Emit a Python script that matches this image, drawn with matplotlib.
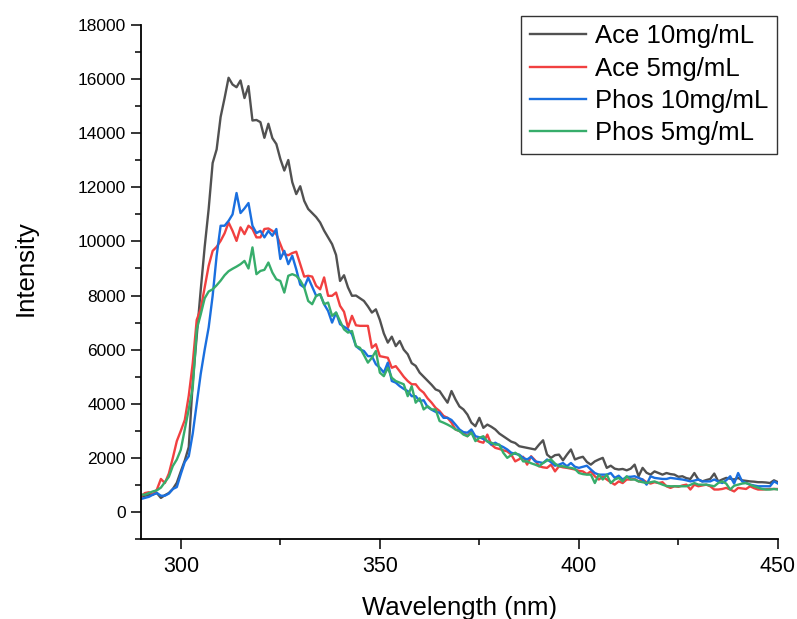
import numpy as np
import matplotlib

matplotlib.use("Agg")

from matplotlib import pyplot as plt  # noqa: E402
from matplotlib.ticker import MultipleLocator  # noqa: E402

plt.rcParams["font.family"] = ["Liberation Sans", "DejaVu Sans"]

wavelength = np.arange(290, 451)

ace_10 = [
    560, 600, 620, 650, 700, 520, 620, 700, 850, 1080,
    1500, 1900, 2400, 4800, 6500, 8200, 9800, 11200, 12900, 13400,
    14600, 15300, 16050, 15800, 15700, 15950, 15300, 15740, 14470, 14490,
    14410, 13830, 14350, 13820, 13600, 13050, 12620, 13010, 12190, 11750,
    12040, 11500, 11200, 11050, 10900, 10700, 10400, 10150, 9900, 9500,
    8540, 8750, 8300, 7990, 8000, 7900, 7800, 7600, 7370, 7490,
    7100, 6600, 6260, 6480, 6130, 6320, 6000, 5830, 5500, 5400,
    5150, 5000, 4850, 4700, 4530, 4470, 4250, 4040, 4470, 4160,
    3900, 3790, 3600, 3300, 3170, 3480, 3110, 3230, 3150, 3050,
    2900, 2800, 2700, 2600, 2550, 2430, 2400, 2370, 2340, 2310,
    2490, 2650, 2120, 2000, 2100, 2120, 1910, 2120, 2310, 1940,
    2000, 2040, 1850, 1750, 1870, 1940, 2000, 1630, 1710, 1600,
    1570, 1590, 1540, 1600, 1750, 1320, 1630, 1450, 1380, 1500,
    1440, 1380, 1440, 1400, 1380, 1300, 1320, 1250, 1220, 1440,
    1200, 1130, 1180, 1220, 1420, 1130, 1200, 1260, 1230, 1200,
    1260, 1170, 1150, 1130, 1120, 1100, 1100, 1090, 1070, 1170,
    1100,
]

ace_5 = [
    580, 700, 730, 640, 830, 1220, 1070, 1420, 2000, 2620,
    3000, 3400, 4300, 5500, 7100, 7500, 8300, 9100, 9650, 9800,
    10020, 10300, 10700, 10390, 10020, 10520, 10270, 10580, 10460, 10150,
    10150, 10460, 10480, 10390, 10270, 9900, 9530, 9490, 9570, 9620,
    9160, 8700, 8730, 8700, 8360, 8230, 8670, 7990, 7990, 8110,
    7620, 7400, 6820, 7250, 6900, 6880, 6880, 6880, 6070, 6200,
    5760, 5730, 5700, 5330, 5390, 5200, 5000, 4840, 4720, 4720,
    4530, 4410, 4200, 4040, 3850, 3730, 3550, 3480, 3300, 3050,
    2990, 2930, 2800, 2990, 2680, 2600, 2560, 2860, 2490, 2370,
    2330, 2280, 2240, 2120, 1870, 1950, 2040, 1750, 2060, 1910,
    1690, 1650, 1630, 1750, 1500, 1690, 1650, 1630, 1600, 1570,
    1520, 1500, 1400, 1500, 1320, 1200, 1300, 1200, 1100, 1010,
    1130, 1070, 1200, 1200, 1220, 1130, 1200, 1100, 1050, 1100,
    1070, 1100, 950, 890, 950, 930, 980, 1010, 830, 1010,
    950, 980, 1010, 950, 830, 830, 850, 890, 830, 760,
    890, 870, 850, 950, 880, 830, 830, 840, 850, 850,
    850,
]

phos_10 = [
    480, 520, 560, 640, 700, 600, 600, 680, 850, 920,
    1400, 1850, 2060, 2900, 4000, 5100, 6000, 6820, 7990, 9470,
    10580, 10580, 10760, 11000, 11790, 11050, 11220, 11420, 10580, 10310,
    10390, 10150, 10390, 10210, 10460, 9350, 9650, 9160, 9470, 8970,
    8400, 8300, 8660, 8330, 7990, 8050, 7680, 7430, 7000, 7370,
    6940, 6850, 6750, 6570, 6130, 6010, 5950, 5760, 5760, 5460,
    5330, 5150, 5520, 4840, 4780, 4650, 4550, 4470, 4280, 4280,
    4100, 4130, 3880, 3780, 3700, 3670, 3480, 3480, 3400, 3230,
    3050, 2950, 2930, 3050, 2800, 2760, 2700, 2620, 2490, 2560,
    2470, 2400, 2310, 2190, 2150, 2120, 2000, 1940, 2040, 1870,
    1840, 1810, 1940, 1840, 1710, 1750, 1810, 1690, 1810, 1670,
    1630, 1670, 1710, 1570, 1440, 1380, 1380, 1380, 1440, 1260,
    1340, 1200, 1300, 1300, 1320, 1260, 1200, 1010, 1320, 1260,
    1240, 1220, 1220, 1260, 1240, 1220, 1200, 1170, 1130, 1160,
    1200, 1130, 1130, 1130, 1200, 1130, 1070, 1170, 1320, 1050,
    1440, 1130, 1070, 1010, 980, 950, 950, 950, 950, 1130,
    1050,
]

phos_5 = [
    640, 640, 700, 760, 800, 900, 1100, 1300, 1700, 1940,
    2300, 3050, 3800, 4600, 6750, 7300, 7900, 8150, 8230, 8380,
    8550, 8750, 8900, 8990, 9070, 9160, 9280, 9000, 9780, 8790,
    8910, 8950, 9220, 8850, 8600, 8540, 8110, 8730, 8790, 8730,
    8560, 8300, 7800, 7680, 7990, 8050, 7680, 7740, 7250, 7370,
    7060, 6750, 6630, 6690, 6130, 6070, 5800, 5520, 5700, 5950,
    5150, 5020, 5330, 4960, 4840, 4780, 4720, 4280, 4650, 4040,
    4200, 3790, 3910, 3790, 3790, 3360, 3300, 3230, 3150, 3050,
    2990, 2860, 2800, 2930, 2620, 2740, 2800, 2600, 2560, 2490,
    2490, 2190, 2000, 2100, 2190, 2090, 1870, 1870, 1800, 1750,
    1690, 1810, 1900, 1940, 1790, 1690, 1690, 1650, 1630, 1590,
    1440, 1400, 1380, 1380, 1070, 1380, 1200, 1380, 1070, 1200,
    1260, 1130, 1320, 1200, 1200, 1130, 1100, 1070, 1100, 1130,
    1070, 1010, 960, 950, 950, 950, 950, 950, 1000, 1070,
    1010, 1010, 1010, 980, 950, 1070, 1130, 1050, 830, 970,
    1010, 1050, 1070, 1010, 950, 900, 850, 830, 830, 850,
    830,
]

series = [
    ("Ace 10mg/mL", ace_10, "#515151"),
    ("Ace 5mg/mL", ace_5, "#F14040"),
    ("Phos 10mg/mL", phos_10, "#1A6FDF"),
    ("Phos 5mg/mL", phos_5, "#37AD6B"),
]

fig = plt.figure(figsize=(7.97, 6.19), dpi=100)
ax = fig.add_axes([0.1769, 0.1292, 0.7992, 0.8304])

for label, values, color in series:
    ax.plot(wavelength, values, color=color, linewidth=1.7, label=label)

ax.set_xlim(290, 450)
ax.set_ylim(-1000, 18000)
ax.xaxis.set_major_locator(MultipleLocator(50))
ax.xaxis.set_minor_locator(MultipleLocator(25))
ax.yaxis.set_major_locator(MultipleLocator(2000))
ax.yaxis.set_minor_locator(MultipleLocator(1000))

for side in ("top", "right"):
    ax.spines[side].set_visible(False)
for side in ("left", "bottom"):
    ax.spines[side].set_linewidth(1.3)

ax.tick_params(which="major", direction="out", length=7, width=1.1)
ax.tick_params(which="minor", direction="out", length=4, width=1.1)
ax.tick_params(axis="x", which="major", labelsize=15.5, pad=5)
ax.tick_params(axis="y", which="major", labelsize=12.5, pad=4)

ax.set_xlabel("Wavelength (nm)", fontsize=18.5, labelpad=14)
ax.set_ylabel("Intensity", fontsize=18.5)
ax.yaxis.set_label_coords(-0.163, 0.527)

legend = ax.legend(
    loc="upper right",
    bbox_to_anchor=(777 / 797, 1 - 16 / 619),
    bbox_transform=fig.transFigure,
    borderaxespad=0,
    fontsize=18.5,
    fancybox=False,
    framealpha=1,
    edgecolor="#333333",
    handlelength=2.2,
    handletextpad=0.35,
    labelspacing=0.32,
    borderpad=0.33,
)
legend.get_frame().set_linewidth(1.0)

fig.savefig("out.png", dpi=100)
plt.close(fig)
